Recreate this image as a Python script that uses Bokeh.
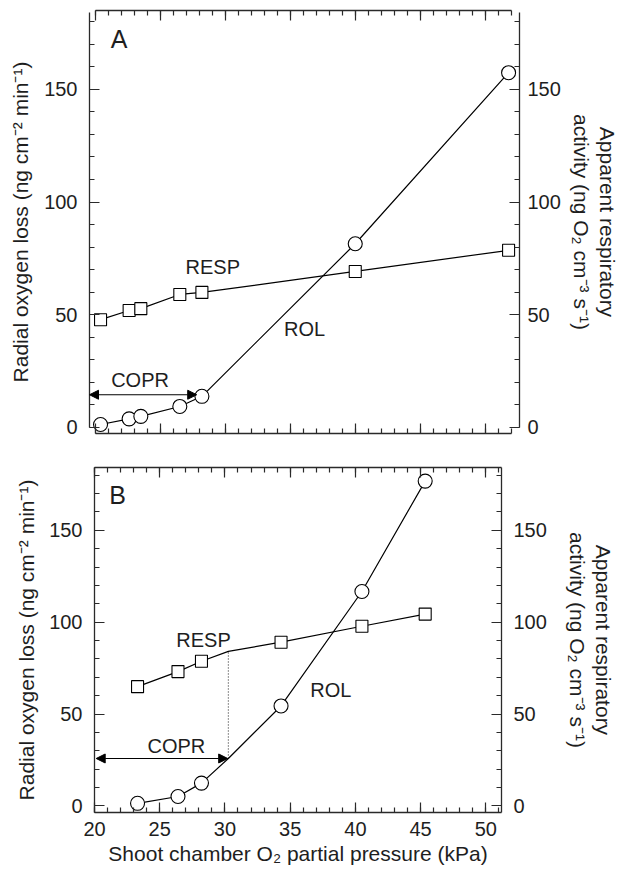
from bokeh.plotting import figure
from bokeh.models import (LinearAxis, Range1d, SingleIntervalTicker, Arrow,
                          NormalHead, ColumnDataSource)
from bokeh.core.properties import value
from bokeh.embed import file_html
from bokeh.resources import INLINE

# ---------------- data ----------------
# Panel A
x_a = [20.4, 22.6, 23.5, 26.5, 28.2, 40.0, 51.8]
rol_a = [1.3, 3.8, 4.9, 9.3, 13.8, 81.5, 157.4]
resp_a = [47.8, 51.9, 52.7, 59.0, 59.9, 69.2, 78.6]
copr_a = 27.8
copr_a_level = 14.5

# Panel B
x_b = [23.3, 26.4, 28.2, 34.3, 40.5, 45.35]
rol_b = [1.4, 5.1, 12.4, 54.4, 116.7, 176.8]
resp_b = [64.9, 73.1, 78.7, 89.1, 97.8, 104.4]
copr_b = 30.26
rol_b_at_copr = 25.8
resp_b_at_copr = 84.1

x_ticks_interval = 5
y_ticks_interval = 50

FONT = "Liberation Sans"
INK = "#1e1e1e"
AX = "#2a2a2a"

y_label = "Radial oxygen loss (ng cm\u207b\u00b2 min\u207b\u00b9)"
y2_label_1 = "Apparent respiratory"
y2_label_2 = "activity (ng O\u2082 cm\u207b\u00b3 s\u207b\u00b9)"
x_label = "Shoot chamber O\u2082 partial pressure (kPa)"


def style_label(ax, text, als):
    ax.axis_label = text
    ax.axis_label_text_font = FONT
    ax.axis_label_text_font_size = "21px"
    ax.axis_label_text_font_style = "normal"
    ax.axis_label_text_color = INK
    ax.axis_label_standoff = als


def make_axis(kind, labels, bounds, axis_label=None, ls=10, als=6):
    ticker = SingleIntervalTicker(interval=x_ticks_interval if kind == "x" else y_ticks_interval,
                                  num_minor_ticks=5)
    ax = LinearAxis(ticker=ticker, bounds=bounds)
    ax.axis_line_color = AX
    ax.axis_line_width = 1.3
    ax.major_tick_line_color = AX
    ax.minor_tick_line_color = AX
    ax.major_tick_line_width = 1.2
    ax.minor_tick_line_width = 1.2
    ax.major_tick_in = 10
    ax.major_tick_out = 0
    ax.minor_tick_in = 5
    ax.minor_tick_out = 0
    if labels:
        ax.major_label_text_font = FONT
        ax.major_label_text_font_size = "20px"
        ax.major_label_text_color = INK
        ax.major_label_standoff = ls
    else:
        ax.major_label_text_font_size = "0px"
        ax.major_label_standoff = 0
        ax.major_label_text_color = None
    if axis_label:
        style_label(ax, axis_label, als)
    return ax


def label_only_axis(text, als, bounds):
    # an axis with no line / ticks that only carries (one line of) an axis title;
    # its bounds set where along the side the title is centred
    ax = LinearAxis(ticker=SingleIntervalTicker(interval=y_ticks_interval), bounds=bounds)
    ax.axis_line_color = None
    ax.major_tick_line_color = None
    ax.minor_tick_line_color = None
    ax.major_tick_in = 0
    ax.major_tick_out = 0
    ax.minor_tick_in = 0
    ax.minor_tick_out = 0
    ax.major_label_text_font_size = "0px"
    ax.major_label_text_color = None
    ax.major_label_standoff = 0
    style_label(ax, text, als)
    return ax


def add_series(p, xs, rol, resp, line_x, line_y_rol, line_y_resp):
    p.line(line_x, line_y_rol, line_color="black", line_width=1.2)
    p.line(line_x, line_y_resp, line_color="black", line_width=1.2)
    p.scatter(xs, resp, marker="square", size=12, fill_color="white",
              line_color="black", line_width=1.1)
    p.scatter(xs, rol, marker="circle", size=14, fill_color="white",
              line_color="black", line_width=1.1)


def add_text(p, xs, ys, texts, size):
    src = ColumnDataSource(dict(x=xs, y=ys, t=texts))
    p.text(x="x", y="y", text="t", source=src, text_font=value(FONT),
           text_font_size=size, text_color=INK, text_align="center",
           text_baseline="middle")


def base_figure(w, h, xr, yr, bl, br, bt, bb):
    p = figure(width=w, height=h, output_backend="svg", toolbar_location=None,
               x_range=Range1d(*xr), y_range=Range1d(*yr),
               x_axis_location=None, y_axis_location=None,
               min_border_left=bl, min_border_right=br, min_border_top=bt,
               min_border_bottom=bb)
    p.outline_line_color = None
    p.grid.visible = False
    p.background_fill_color = "white"
    p.border_fill_color = "white"
    return p


# ---------------- Panel A ----------------
pa = base_figure(622, 450, (19.55, 52.64), (-2.7, 185), 89, 103, 10, 17)

pa.add_layout(make_axis("x", False, (20, 52)), "below")
pa.add_layout(make_axis("x", False, (20, 52)), "above")
pa.add_layout(make_axis("y", True, (0, 184.3), y_label, ls=12, als=9), "left")
pa.add_layout(make_axis("y", True, (0, 184.3), ls=8), "right")
pa.add_layout(label_only_axis(y2_label_2, 6, (-8.6, 184.3)), "right")
pa.add_layout(label_only_axis(y2_label_1, 0, (-8.6, 184.3)), "right")

add_series(pa, x_a, rol_a, resp_a, x_a, rol_a, resp_a)

pa.add_layout(Arrow(start=NormalHead(size=9, fill_color="black", line_color="black"),
                    end=NormalHead(size=9, fill_color="black", line_color="black"),
                    x_start=pa.x_range.start, y_start=copr_a_level,
                    x_end=copr_a, y_end=copr_a_level,
                    line_color="black", line_width=1.2))

add_text(pa, [23.44, 29.04, 36.1], [20.9, 71.4, 43.5], ["COPR", "RESP", "ROL"], "20px")
add_text(pa, [21.83], [172.3], ["A"], "25px")

# ---------------- Panel B ----------------
pb = base_figure(622, 424, (20, 51.2), (-3.6, 184.2), 94, 121, 17, 62)

pb.add_layout(make_axis("x", True, "auto", x_label, ls=9, als=3), "below")
pb.add_layout(make_axis("x", False, "auto"), "above")
pb.add_layout(make_axis("y", True, "auto", ls=12), "left")
pb.add_layout(label_only_axis(y_label, 9, (-12.4, 184.2)), "left")
pb.add_layout(make_axis("y", True, "auto", ls=12), "right")
pb.add_layout(label_only_axis(y2_label_2, 16, (-12.4, 184.2)), "right")
pb.add_layout(label_only_axis(y2_label_1, 0, (-12.4, 184.2)), "right")

line_x_b = x_b[:3] + [copr_b] + x_b[3:]
rol_line_b = rol_b[:3] + [rol_b_at_copr] + rol_b[3:]
resp_line_b = resp_b[:3] + [resp_b_at_copr] + resp_b[3:]
add_series(pb, x_b, rol_b, resp_b, line_x_b, rol_line_b, resp_line_b)

pb.segment(x0=[copr_b], y0=[rol_b_at_copr], x1=[copr_b], y1=[resp_b_at_copr],
           line_color="black", line_width=0.9, line_dash="1 2")

pb.add_layout(Arrow(start=NormalHead(size=9, fill_color="black", line_color="black"),
                    end=NormalHead(size=9, fill_color="black", line_color="black"),
                    x_start=20.13, y_start=rol_b_at_copr,
                    x_end=copr_b - 0.05, y_end=rol_b_at_copr,
                    line_color="black", line_width=1.2))

add_text(pb, [26.28, 28.36, 38.12], [32.6, 90.5, 63.3], ["COPR", "RESP", "ROL"], "20px")
add_text(pb, [21.77], [169.0], ["B"], "25px")

# two independent roots, stacked: keeps each panel's own frame geometry
open("out.html", "w").write(file_html([pa, pb], INLINE))
